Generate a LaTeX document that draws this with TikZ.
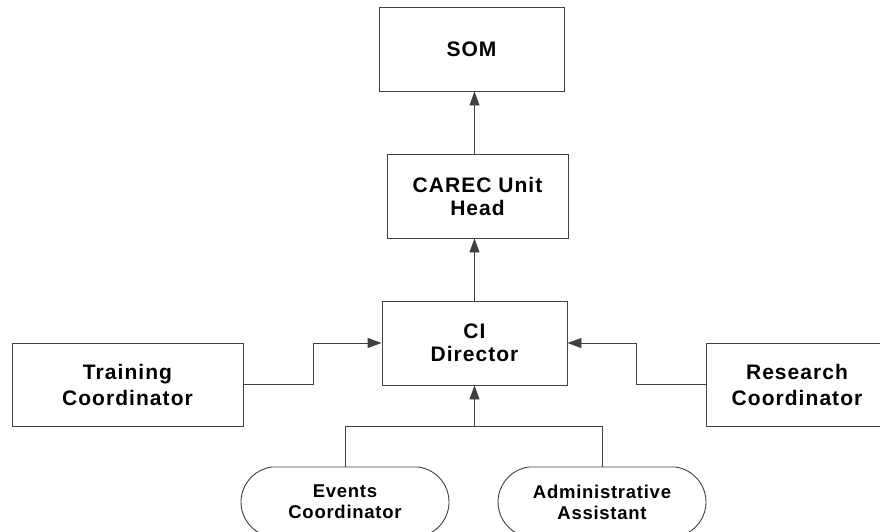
\documentclass[tikz,border=0pt]{standalone}
\usepackage{fontspec}
\setmainfont{Liberation Sans}[LetterSpace=5]
\usetikzlibrary{arrows.meta,shapes.misc}

\begin{document}
\begin{tikzpicture}[x=1pt,y=-1pt,
    box/.style={draw=black!75, line width=0.9pt, align=center, inner sep=0pt,
        minimum width=185pt, minimum height=84pt, font=\fontsize{21}{23}\selectfont\bfseries},
    pill/.style={draw=black!75, line width=0.9pt, rounded rectangle, rounded rectangle arc length=165,
        align=center, inner sep=0pt, minimum width=208pt, minimum height=70pt,
        font=\fontsize{18.5}{21}\selectfont\bfseries\addfontfeature{LetterSpace=4}},
    link/.style={draw=black!75, line width=0.9pt},
    up/.style={link, -{Triangle[length=14pt,width=10pt]}}]
            \useasboundingbox (0,0) rectangle (880,531);
            \clip (0,0) rectangle (880,531);

            \node[box] (som) at (471.5,49) {SOM};
            \node[box, minimum width=181pt] (unit) at (477.5,196) {CAREC Unit\\Head};
            \node[box] (ci) at (474.5,343) {CI\\Director};
            \node[box, minimum width=231pt, minimum height=83pt, font=\fontsize{21}{26}\selectfont\bfseries] (train) at (127.5,384.5) {Training\\Coordinator};
            \node[box, minimum width=182pt, minimum height=83pt, font=\fontsize{21}{26}\selectfont\bfseries] (res) at (797,384.5) {Research\\Coordinator};
            \node[pill] (events) at (345,502) {Events\\Coordinator};
            \node[pill] (admin) at (602,502) {Administrative\\Assistant};
            \coordinate (bus) at (474.5,426);

            \draw[up] (unit.north -| ci) -- (som.south -| ci);
            \draw[up] (ci.north) -- (ci.north |- unit.south);
            \draw[up] (train.east) -- ++(70,0) |- (ci.west);
            \draw[up] (res.west) -- ++(-69,0) |- (ci.east);
            \draw[link] (events.north) |- (bus) -| (admin.north);
            \draw[up] (bus) -- (ci.south);
        \end{tikzpicture}
\end{document}
